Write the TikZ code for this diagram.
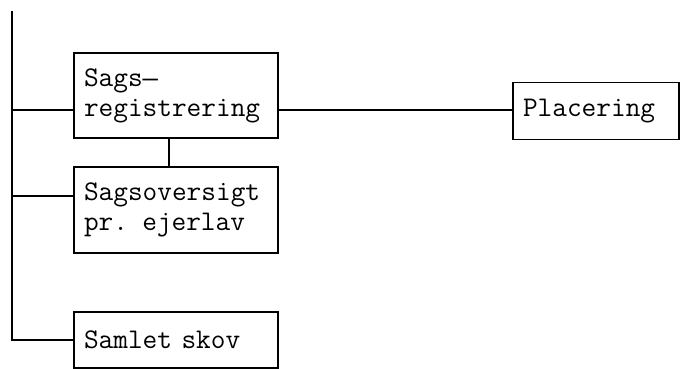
\documentclass[tikz,border=0pt]{standalone}
\usepackage{fontspec}
\newfontfamily\dashfont{Liberation Mono}
\begin{document}
\begin{tikzpicture}[x=1pt,y=-1pt,line width=1.4pt,
  boxnode/.style={draw, rectangle, inner xsep=10pt, inner ysep=0pt,
    minimum width=204pt, text width=184pt, align=left,
    font=\ttfamily\fontsize{28.5}{30}\selectfont},
  link/.style={draw}]
\useasboundingbox (0,0) rectangle (682,369);
\node[boxnode, minimum height=85pt] (reg) at (176,95.5) {Sags{\dashfont\fontsize{25.5}{30}\selectfont —}\\registrering};
\node[boxnode, minimum height=86pt] (over) at (176,210) {Sagsoversigt\\pr. ejerlav};
\node[boxnode, minimum height=56pt] (skov) at (176,340) {Samlet skov};
\node[boxnode, minimum height=57pt, minimum width=166pt, text width=146pt] (plac) at (596,111) {Placering};
\coordinate (top) at (12,11);
\coordinate (bot) at (12,340);
\coordinate (b1) at (12,110);
\coordinate (b2) at (12,196);
\draw[link] (top) -- (bot) -- (skov.west);
\draw[link] (b1) -- (b1 -| reg.west);
\draw[link] (b2) -- (b2 -| over.west);
\draw[link] (reg.east |- b1) -- (plac.west |- b1);
\draw[link] (169,0 |- reg.south) -- (169,0 |- over.north);
\end{tikzpicture}
\end{document}
